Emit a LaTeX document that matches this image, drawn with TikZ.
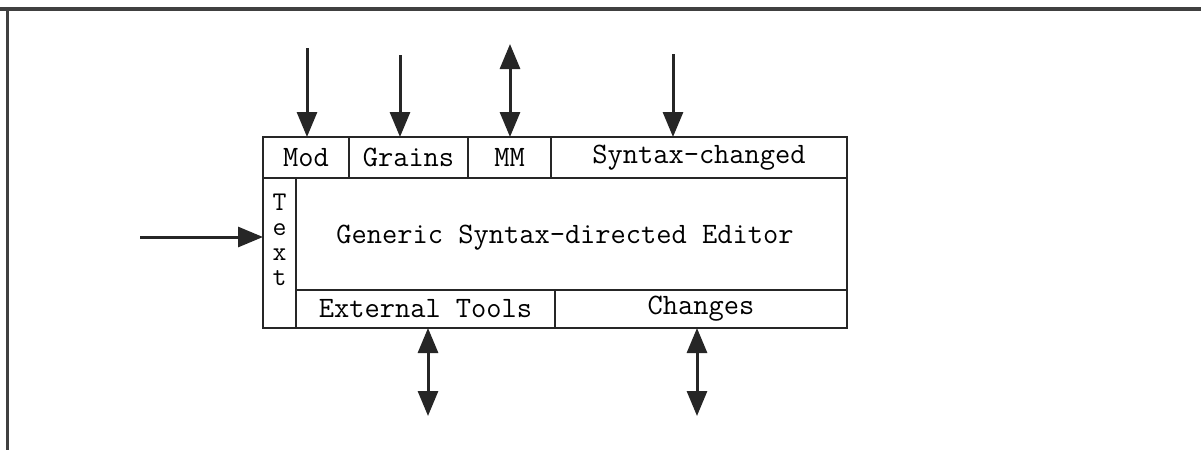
\documentclass[tikz,border=0pt]{standalone}
\usepackage{fontspec}
\usetikzlibrary{arrows.meta}
\tikzset{
  cell/.style={draw=black!85, line width=1.4pt, inner sep=0pt, outer sep=0pt,
    font=\ttfamily\fontsize{14.8}{18}\selectfont},
  letter/.style={inner sep=0pt, anchor=base, font=\ttfamily\fontsize{13.5}{16}\selectfont},
  flow/.style={draw=black!85, line width=1.5pt, -{Triangle[length=12.5pt,width=10pt]}},
  flowboth/.style={draw=black!85, line width=1.5pt, {Triangle[length=12.5pt,width=10pt]}-{Triangle[length=12.5pt,width=10pt]}}
}
\begin{document}
\begin{tikzpicture}[x=0.5pt, y=-0.5pt]
    \useasboundingbox (0,0) rectangle (1201,450);
    % frame of the page
    \draw[line width=2pt, black!75] (0,9) -- (1201,9);
    \draw[line width=1.5pt, black!75] (7,9) -- (7,450);
    % top row
    \node[cell, minimum width=43pt, minimum height=20.5pt] (mod) at (306,157.5) {Mod};
    \node[cell, minimum width=59.5pt, minimum height=20.5pt] (grains) at (408.5,157.5) {Grains};
    \node[cell, minimum width=41.5pt, minimum height=20.5pt] (mm) at (509.5,157.5) {MM};
    \node[cell, minimum width=148pt, minimum height=20.5pt] (syn) at (699,157.5) {Syntax-changed};
    % text column and main area
    \node[cell, minimum width=16.5pt, minimum height=75pt] (textcol) at (279.5,253) {};
    \foreach \ch [count=\i] in {T,e,x,t}
        \node[letter] (textlbl\i) at (279.5,185+25*\i) {\ch};
    \node[cell, minimum width=275.5pt, minimum height=56pt] (main) at (571.5,234) {};
    \node[cell, draw=none] (mainlbl) at (565,238) {Generic Syntax-directed Editor};
    % bottom row
    \node[cell, minimum width=129.5pt, minimum height=19pt] (ext) at (425.5,309) {External Tools};
    \node[cell, minimum width=146pt, minimum height=19pt] (chg) at (701,309) {Changes};
    % free ends
    \coordinate (modin) at (307,48);
    \coordinate (grainsin) at (400,55);
    \coordinate (mmio) at (510,44);
    \coordinate (synin) at (673,54);
    \coordinate (textin) at (140,237);
    \coordinate (extio) at (428,416);
    \coordinate (chgio) at (697,416);
    % connectors
    \draw[flow] (modin) -- (modin |- mod.north);
    \draw[flow] (grainsin) -- (grainsin |- grains.north);
    \draw[flowboth] (mmio) -- (mmio |- mm.north);
    \draw[flow] (synin) -- (synin |- syn.north);
    \draw[flow] (textin) -- (textin -| textcol.west);
    \draw[flowboth] (extio |- ext.south) -- (extio);
    \draw[flowboth] (chgio |- chg.south) -- (chgio);
\end{tikzpicture}
\end{document}
